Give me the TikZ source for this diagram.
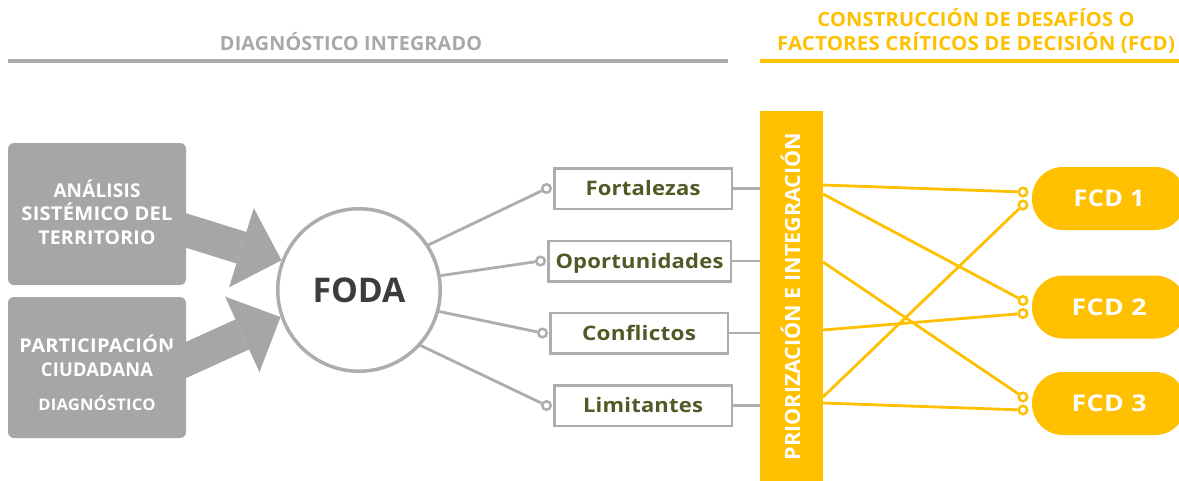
\documentclass[tikz,border=0pt]{standalone}
\usepackage{fontspec}
\setmainfont{Open Sans}
\usepackage{graphicx}
\usetikzlibrary{arrows.meta}
\definecolor{gfill}{HTML}{A6A6A6}
\definecolor{gline}{HTML}{ADADAD}
\definecolor{htxt}{HTML}{A8A8A8}
\definecolor{ylw}{HTML}{FFC000}
\definecolor{olivetxt}{HTML}{4F5A26}
\definecolor{darktxt}{HTML}{3C3C3C}
% width, size, letterspace, text
\newcommand\tw[4]{\resizebox{#1pt}{\height}{\fontsize{#2pt}{#2pt}\selectfont\bfseries\addfontfeature{LetterSpace=#3}#4}}
\begin{document}
\begin{tikzpicture}[x=1pt,y=-1pt,
  hdr/.style={anchor=base, inner sep=0pt},
  gbox/.style={fill=gfill, rounded corners=6pt, minimum width=178pt, inner sep=0pt},
  wtxt/.style={anchor=base, inner sep=0pt, text=white},
  bigarrow/.style={draw=gfill, line width=33pt, -{Triangle[width=83pt,length=42pt,line width=0pt]}},
  fodanode/.style={circle, draw=gline, line width=3.5pt, fill=white, minimum size=162.5pt, inner sep=0pt, text=darktxt, text height=24pt, text depth=0pt},
  wbox/.style={draw=gline, line width=2.5pt, fill=white, minimum height=40.5pt, inner sep=0pt, text=olivetxt, text height=14pt, text depth=0pt},
  gdot/.style={circle, draw=gline, line width=2.5pt, fill=white, minimum size=8.5pt, inner sep=0pt},
  ydot/.style={circle, draw=ylw, line width=2.5pt, fill=white, minimum size=8.5pt, inner sep=0pt},
  gcon/.style={draw=gline, line width=2.8pt},
  ycon/.style={draw=ylw, line width=2.8pt},
  fcdnode/.style={fill=ylw, rounded corners=31pt, minimum width=154pt, minimum height=63pt, inner sep=0pt, text=white, text height=16pt, text depth=0pt}
]
\useasboundingbox (0,0) rectangle (1179,480);
\clip (0,0) rectangle (1179,480);
\fill[white] (0,0) rectangle (1179,480);

% headers
\node[hdr, text=htxt] (h1) at (351,50) {\tw{262}{19.5}{1}{DIAGNÓSTICO INTEGRADO}};
\node[hdr, text=ylw] (h2) at (976,26) {\tw{317}{19.5}{1}{CONSTRUCCIÓN DE DESAFÍOS O}};
\node[hdr, text=ylw] (h3) at (976,50) {\tw{398}{19.5}{1}{FACTORES CRÍTICOS DE DECISIÓN (FCD)}};
\coordinate (hl1a) at (8,61); \coordinate (hl1b) at (728,61);
\coordinate (hl2a) at (760,61); \coordinate (hl2b) at (1179,61);
\draw[gline, line width=3.5pt] (hl1a) -- (hl1b);
\draw[ylw, line width=3.5pt] (hl2a) -- (hl2b);

% gray boxes
\node[gbox, minimum height=142pt] (box1) at (97,214) {};
\node[gbox, minimum height=141pt] (box2) at (97,367.5) {};
\node[wtxt] (t1a) at (97,197) {\tw{87}{19}{1}{ANÁLISIS}};
\node[wtxt] (t1b) at (97,220.5) {\tw{151}{19}{1}{SISTÉMICO DEL}};
\node[wtxt] (t1c) at (97,244) {\tw{117}{19}{1}{TERRITORIO}};
\node[wtxt] (t2a) at (97,352) {\tw{155}{19}{1}{PARTICIPACIÓN}};
\node[wtxt] (t2b) at (97,376) {\tw{112}{19}{1}{CIUDADANA}};
\node[wtxt] (t2c) at (97,410) {\tw{117}{16}{1}{DIAGNÓSTICO}};

% FODA
\node[fodanode] (foda) at (359,290) {\tw{93}{34}{0}{FODA}};
\coordinate (a1s) at (175,227);
\coordinate (a2s) at (175,365);
\draw[bigarrow] (a1s) -- (foda.159);
\draw[bigarrow] (a2s) -- (foda.199);

% SWOT boxes
\node[wbox, minimum width=177.5pt] (fort) at (643,188.5) {\tw{115}{20}{1}{Fortalezas}};
\node[wbox, minimum width=182.5pt] (opor) at (639.5,261) {\tw{168}{20}{1}{Oportunidades}};
\node[wbox, minimum width=177.5pt] (conf) at (639,333) {\tw{114}{20}{1}{Conflictos}};
\node[wbox, minimum width=177.5pt] (limi) at (643,405.5) {\tw{120}{20}{1}{Limitantes}};

\node[gdot, anchor=east] (d1) at ([xshift=-1pt]fort.west) {};
\node[gdot, anchor=east] (d2) at ([xshift=-1pt]opor.west) {};
\node[gdot, anchor=east] (d3) at ([xshift=-1pt]conf.west) {};
\node[gdot, anchor=east] (d4) at ([xshift=-1pt]limi.west) {};
\draw[gcon] (foda.33) -- (d1);
\draw[gcon] (foda.10) -- (d2);
\draw[gcon] (foda.-15) -- (d3);
\draw[gcon] (foda.-42) -- (d4);

% bar
\node[fill=ylw, minimum width=63pt, minimum height=375pt, inner sep=0pt] (bar) at (791.5,298.5) {};
\node[rotate=90, anchor=base, inner sep=0pt, text=white] (bartxt) at (800,296.5) {\tw{327}{21}{0}{PRIORIZACIÓN E INTEGRACIÓN}};
\draw[gcon] (fort.east) -- (fort.east -| bar.west);
\draw[gcon] (opor.east) -- (opor.east -| bar.west);
\draw[gcon] (conf.east) -- (conf.east -| bar.west);
\draw[gcon] (limi.east) -- (limi.east -| bar.west);

% FCD
\node[fcdnode] (fcd1) at (1109,198.5) {\tw{71}{23}{2}{FCD 1}};
\node[fcdnode] (fcd2) at (1109,307) {\tw{75}{23}{2}{FCD 2}};
\node[fcdnode] (fcd3) at (1109,403.5) {\tw{75}{23}{2}{FCD 3}};

\node[ydot] (y1a) at (1023,192) {};
\node[ydot] (y1b) at (1023,205) {};
\node[ydot] (y2a) at (1023,300.5) {};
\node[ydot] (y2b) at (1023,313.5) {};
\node[ydot] (y3a) at (1023,397) {};
\node[ydot] (y3b) at (1023,410) {};

\coordinate (s1) at (823,185);
\coordinate (s2) at (823,194);
\coordinate (s3) at (823,262);
\coordinate (s4) at (823,330);
\coordinate (s5) at (823,397);
\coordinate (s6) at (823,403);
\draw[ycon] (s1) -- (y1a);
\draw[ycon] (s2) -- (y2a);
\draw[ycon] (s3) -- (y3a);
\draw[ycon] (s4) -- (y2b);
\draw[ycon] (s5) -- (y1b);
\draw[ycon] (s6) -- (y3b);
\end{tikzpicture}
\end{document}
